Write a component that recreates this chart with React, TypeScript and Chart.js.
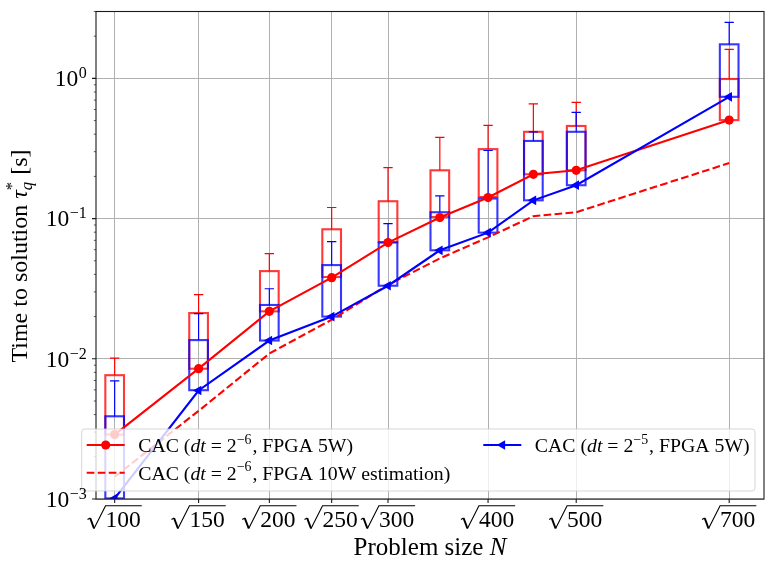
import React, { useEffect, useRef } from "react";
import { Chart, registerables } from "chart.js";

Chart.register(...registerables);

// ---------- data ----------
const problemSizes = [100, 150, 200, 250, 300, 350, 400, 450, 500, 700];
const xTickSizes = [100, 150, 200, 250, 300, 400, 500, 700];
const yTickValues = [1e-3, 1e-2, 1e-1, 1e0];
const yTickExponents = ["−3", "−2", "−1", "0"];

// CAC (dt = 2^-6, FPGA 5W) markers
const cac6Fpga5w = [0.00288, 0.0085, 0.0218, 0.0379, 0.0674, 0.1017, 0.1413, 0.207, 0.221, 0.504];
// CAC (dt = 2^-6, FPGA 10W estimation)
const cac6Fpga10w = [0.00144, 0.00425, 0.0109, 0.019, 0.0337, 0.052, 0.0735, 0.104, 0.111, 0.249];
// CAC (dt = 2^-5, FPGA 5W) markers
const cac5Fpga5w = [0.00101, 0.00594, 0.0135, 0.02, 0.0332, 0.0594, 0.0794, 0.135, 0.173, 0.739];

// box plots (box low, box high, upper whisker)
const cac6BoxLow = [0.00288, 0.0085, 0.0218, 0.0383, 0.0677, 0.1027, 0.1427, 0.207, 0.221, 0.504];
const cac6BoxHigh = [0.00764, 0.0212, 0.0422, 0.0839, 0.133, 0.221, 0.313, 0.416, 0.458, 0.99];
const cac6WhiskerTop = [0.0101, 0.0287, 0.0562, 0.12, 0.231, 0.379, 0.462, 0.659, 0.674, 1.61];
const cac5BoxLow = [0.00101, 0.00597, 0.0135, 0.02, 0.0332, 0.0594, 0.0794, 0.135, 0.173, 0.739];
const cac5BoxHigh = [0.00389, 0.0136, 0.0242, 0.0466, 0.0677, 0.111, 0.139, 0.358, 0.416, 1.75];
const cac5WhiskerTop = [0.00697, 0.021, 0.0316, 0.0685, 0.0921, 0.145, 0.306, 0.416, 0.572, 2.51];

const boxWidth = 0.5;
const capWidth = 0.25;

// ---------- text helpers ----------
const FONT = "'Liberation Serif', 'Times New Roman', serif";
const fontStr = (size: number, italic?: boolean) => `${italic ? "italic " : ""}${size}px ${FONT}`;

type Seg = { text?: string; italic?: boolean; sup?: string; sub?: string; subItalic?: boolean };

function segWidth(ctx: CanvasRenderingContext2D, s: Seg, size: number) {
  if (s.sup !== undefined || s.sub !== undefined) {
    const ss = size * 0.7;
    ctx.font = fontStr(ss, false);
    const w1 = s.sup ? ctx.measureText(s.sup).width : 0;
    ctx.font = fontStr(ss, s.subItalic);
    const w2 = s.sub ? ctx.measureText(s.sub).width : 0;
    return Math.max(w1, w2) + 1;
  }
  ctx.font = fontStr(size, s.italic);
  return ctx.measureText(s.text || "").width;
}
function richWidth(ctx: CanvasRenderingContext2D, segs: Seg[], size: number) {
  return segs.reduce((a, s) => a + segWidth(ctx, s, size), 0);
}
function drawRich(ctx: CanvasRenderingContext2D, segs: Seg[], x: number, baseline: number, size: number) {
  let cx = x;
  ctx.textAlign = "left";
  ctx.textBaseline = "alphabetic";
  for (const s of segs) {
    const w = segWidth(ctx, s, size);
    if (s.sup !== undefined || s.sub !== undefined) {
      const ss = size * 0.7;
      if (s.sup) {
        ctx.font = fontStr(ss, false);
        ctx.fillText(s.sup, cx, baseline - size * 0.42);
      }
      if (s.sub) {
        ctx.font = fontStr(ss, s.subItalic);
        ctx.fillText(s.sub, cx, baseline + size * 0.22);
      }
    } else {
      ctx.font = fontStr(size, s.italic);
      ctx.fillText(s.text || "", cx, baseline);
    }
    cx += w;
  }
}

const legendItems: { segs: Seg[]; color: string; dash: boolean; marker: "circle" | "tri" | null; col: number; row: number }[] = [
  { segs: [{ text: "CAC (" }, { text: "dt", italic: true }, { text: " = 2" }, { sup: "−6" }, { text: ", FPGA 5W)" }], color: "#ff0000", dash: false, marker: "circle", col: 0, row: 0 },
  { segs: [{ text: "CAC (" }, { text: "dt", italic: true }, { text: " = 2" }, { sup: "−6" }, { text: ", FPGA 10W estimation)" }], color: "#ff0000", dash: true, marker: null, col: 0, row: 1 },
  { segs: [{ text: "CAC (" }, { text: "dt", italic: true }, { text: " = 2" }, { sup: "−5" }, { text: ", FPGA 5W)" }], color: "#0000ff", dash: false, marker: "tri", col: 1, row: 0 },
];

function drawBoxes(chart: any, low: number[], high: number[], top: number[], color: string, edge: string) {
  const { ctx, scales } = chart;
  const x = scales.x;
  const y = scales.y;
  ctx.save();
  problemSizes.forEach((n, i) => {
    const c = Math.sqrt(n);
    const xc = x.getPixelForValue(c);
    const xl = x.getPixelForValue(c - boxWidth / 2);
    const xr = x.getPixelForValue(c + boxWidth / 2);
    const cl = x.getPixelForValue(c - capWidth / 2);
    const cr = x.getPixelForValue(c + capWidth / 2);
    const yl = y.getPixelForValue(low[i]);
    const yh = y.getPixelForValue(high[i]);
    const yt = y.getPixelForValue(top[i]);
    ctx.strokeStyle = color;
    ctx.lineWidth = 1.2;
    ctx.beginPath();
    ctx.moveTo(xc, yh);
    ctx.lineTo(xc, yt);
    ctx.moveTo(cl, yt);
    ctx.lineTo(cr, yt);
    ctx.stroke();
    ctx.strokeStyle = edge;
    ctx.lineWidth = 2.1;
    ctx.strokeRect(xl, yh, xr - xl, yl - yh);
  });
  ctx.restore();
}

function drawTriangleLeft(ctx: CanvasRenderingContext2D, x: number, y: number, r: number) {
  ctx.beginPath();
  ctx.moveTo(x - r, y);
  ctx.lineTo(x + r * 0.5, y - r * 0.866);
  ctx.lineTo(x + r * 0.5, y + r * 0.866);
  ctx.closePath();
  ctx.fill();
}

const boxPlugin = {
  id: "boxes",
  beforeDatasetsDraw(chart: any) {
    const ca = chart.chartArea;
    const ctx = chart.ctx;
    ctx.save();
    ctx.beginPath();
    ctx.rect(ca.left, ca.top, ca.right - ca.left, ca.bottom - ca.top);
    ctx.clip();
    drawBoxes(chart, cac6BoxLow, cac6BoxHigh, cac6WhiskerTop, "#ff0000", "rgba(255,0,0,0.78)");
    drawBoxes(chart, cac5BoxLow, cac5BoxHigh, cac5WhiskerTop, "#0000ff", "rgba(0,0,255,0.78)");
    ctx.restore();
  },
  afterDraw(chart: any) {
    const { ctx, chartArea: ca, scales } = chart;
    const x = scales.x;
    const y = scales.y;
    ctx.save();
    // frame
    ctx.strokeStyle = "#1a1a1a";
    ctx.lineWidth = 1.1;
    ctx.strokeRect(ca.left, ca.top, ca.right - ca.left, ca.bottom - ca.top);
    // x tick marks
    ctx.beginPath();
    xTickSizes.forEach((n) => {
      const px = x.getPixelForValue(Math.sqrt(n));
      ctx.moveTo(px, ca.bottom);
      ctx.lineTo(px, ca.bottom + 4);
    });
    ctx.stroke();
    // y major tick marks
    ctx.beginPath();
    yTickValues.forEach((v) => {
      const py = y.getPixelForValue(v);
      ctx.moveTo(ca.left, py);
      ctx.lineTo(ca.left - 4, py);
    });
    ctx.stroke();
    // y minor ticks
    ctx.lineWidth = 0.7;
    ctx.beginPath();
    for (let e = -3; e <= 0; e++) {
      for (let m = 2; m <= 9; m++) {
        const v = m * Math.pow(10, e);
        if (v > y.max) continue;
        const py = y.getPixelForValue(v);
        ctx.moveTo(ca.left, py);
        ctx.lineTo(ca.left - 2.2, py);
      }
    }
    ctx.stroke();

    // legend
    const lx0 = ca.left - 14.3, ly0 = ca.bottom - 70, lx1 = ca.right - 9, ly1 = ca.bottom - 8;
    ctx.fillStyle = "rgba(255,255,255,0.8)";
    ctx.strokeStyle = "rgba(204,204,204,0.8)";
    ctx.lineWidth = 1;
    ctx.beginPath();
    (ctx as any).roundRect(lx0, ly0, lx1 - lx0, ly1 - ly0, 3);
    ctx.fill();
    ctx.stroke();
    const colX = [lx0 + 5, lx0 + 401.6];
    const rowY = [ly0 + 16, ly0 + 43.7];
    legendItems.forEach((it) => {
      const hx = colX[it.col];
      const hy = rowY[it.row];
      ctx.strokeStyle = it.color;
      ctx.fillStyle = it.color;
      ctx.lineWidth = 2.1;
      ctx.setLineDash(it.dash ? [7.7, 3.3] : []);
      ctx.beginPath();
      ctx.moveTo(hx, hy);
      ctx.lineTo(hx + 38, hy);
      ctx.stroke();
      ctx.setLineDash([]);
      if (it.marker === "circle") {
        ctx.beginPath();
        ctx.arc(hx + 19, hy, 4.6, 0, Math.PI * 2);
        ctx.fill();
      } else if (it.marker === "tri") {
        drawTriangleLeft(ctx, hx + 19, hy, 5.6);
      }
      ctx.fillStyle = "#000";
      drawRich(ctx, it.segs, hx + 51.5, hy + 7, 19.8);
    });

    // x tick labels (sqrt)
    ctx.fillStyle = "#000";
    ctx.strokeStyle = "#000";
    xTickSizes.forEach((n) => {
      const px = x.getPixelForValue(Math.sqrt(n));
      const label = String(n);
      ctx.font = fontStr(23.5);
      const wd = ctx.measureText(label).width;
      const rw = 18;
      const total = rw + wd + 1;
      const x0 = px - total / 2;
      const top = ca.bottom + 6.7;
      ctx.lineWidth = 1.1;
      ctx.beginPath();
      ctx.moveTo(x0, ca.bottom + 20.5);
      ctx.lineTo(x0 + 2.6, ca.bottom + 19);
      ctx.stroke();
      ctx.lineWidth = 2;
      ctx.beginPath();
      ctx.moveTo(x0 + 2.6, ca.bottom + 19);
      ctx.lineTo(x0 + 6.5, ca.bottom + 29.5);
      ctx.stroke();
      ctx.lineWidth = 1.1;
      ctx.beginPath();
      ctx.moveTo(x0 + 6.5, ca.bottom + 29.5);
      ctx.lineTo(x0 + rw, top);
      ctx.lineTo(x0 + total, top);
      ctx.stroke();
      ctx.textAlign = "left";
      ctx.textBaseline = "alphabetic";
      ctx.fillText(label, x0 + rw, ca.bottom + 27.7);
    });

    // y tick labels 10^e
    yTickValues.forEach((v, i) => {
      const py = y.getPixelForValue(v);
      ctx.font = fontStr(16);
      const ws = ctx.measureText(yTickExponents[i]).width;
      ctx.font = fontStr(23.5);
      const wm = ctx.measureText("10").width;
      const right = ca.left - 9.3;
      ctx.textAlign = "left";
      ctx.textBaseline = "alphabetic";
      ctx.fillText("10", right - ws - wm - 0.5, py + 7.8);
      ctx.font = fontStr(16);
      ctx.fillText(yTickExponents[i], right - ws, py - 0.2);
    });

    // x title
    const xt: Seg[] = [{ text: "Problem size " }, { text: "N", italic: true }];
    const xw = richWidth(ctx, xt, 25);
    drawRich(ctx, xt, (ca.left + ca.right) / 2 - xw / 2, 554.5, 25);

    // y title
    const yt: Seg[] = [
      { text: "Time to solution " },
      { text: "τ", italic: true },
      { sup: "*", sub: "q", subItalic: true },
      { text: " [s]" },
    ];
    const yw = richWidth(ctx, yt, 24);
    ctx.save();
    ctx.translate(27, 256);
    ctx.rotate(-Math.PI / 2);
    drawRich(ctx, yt, -yw / 2, 0, 24);
    ctx.restore();

    ctx.restore();
  },
};

export default function App() {
  const ref = useRef<HTMLCanvasElement>(null);
  useEffect(() => {
    const xs = problemSizes.map((n) => Math.sqrt(n));
    const toPts = (vals: number[]) => vals.map((v, i) => ({ x: xs[i], y: v }));
    const chart = new Chart(ref.current as HTMLCanvasElement, {
      type: "line",
      data: {
        datasets: [
          {
            label: "CAC (dt = 2^-5, FPGA 5W)",
            data: toPts(cac5Fpga5w),
            borderColor: "#0000ff",
            backgroundColor: "#0000ff",
            borderWidth: 2.1,
            pointStyle: "triangle",
            pointRotation: -90,
            pointRadius: 5.6,
            pointBorderWidth: 0,
            pointBackgroundColor: "#0000ff",
            tension: 0,
            order: 0,
          },
          {
            label: "CAC (dt = 2^-6, FPGA 5W)",
            data: toPts(cac6Fpga5w),
            borderColor: "#ff0000",
            backgroundColor: "#ff0000",
            borderWidth: 2.1,
            pointStyle: "circle",
            pointRadius: 4.6,
            pointBorderWidth: 0,
            pointBackgroundColor: "#ff0000",
            tension: 0,
            order: 1,
          },
          {
            label: "CAC (dt = 2^-6, FPGA 10W estimation)",
            data: toPts(cac6Fpga10w),
            borderColor: "#ff0000",
            borderWidth: 2.1,
            borderDash: [7.7, 3.3],
            pointRadius: 0,
            tension: 0,
            order: 2,
          },
        ] as any,
      },
      options: {
        animation: false,
        responsive: false,
        events: [],
        layout: { padding: { top: 11.5, right: 10, left: 0, bottom: 0 } },
        plugins: { legend: { display: false }, tooltip: { enabled: false } },
        scales: {
          x: {
            type: "linear",
            min: 9.5,
            max: 27.39,
            border: { display: false },
            grid: { color: "#b0b0b0", lineWidth: 1, drawTicks: false },
            ticks: { display: false },
            afterBuildTicks: (s: any) => {
              s.ticks = xTickSizes.map((n) => ({ value: Math.sqrt(n) }));
            },
            afterFit: (s: any) => {
              s.height = 68;
            },
          },
          y: {
            type: "logarithmic",
            min: 1e-3,
            max: 3.0,
            border: { display: false },
            grid: { color: "#b0b0b0", lineWidth: 1, drawTicks: false },
            ticks: { display: false },
            afterBuildTicks: (s: any) => {
              s.ticks = yTickValues.map((v) => ({ value: v }));
            },
            afterFit: (s: any) => {
              s.width = 96;
            },
          },
        },
      } as any,
      plugins: [boxPlugin],
    });
    return () => chart.destroy();
  }, []);
  return (
    <div style={{ position: "fixed", left: 0, top: 0, width: 774, height: 567, background: "#fff" }}>
      <canvas ref={ref} width={774} height={567} style={{ width: 774, height: 567, display: "block" }} />
    </div>
  );
}
